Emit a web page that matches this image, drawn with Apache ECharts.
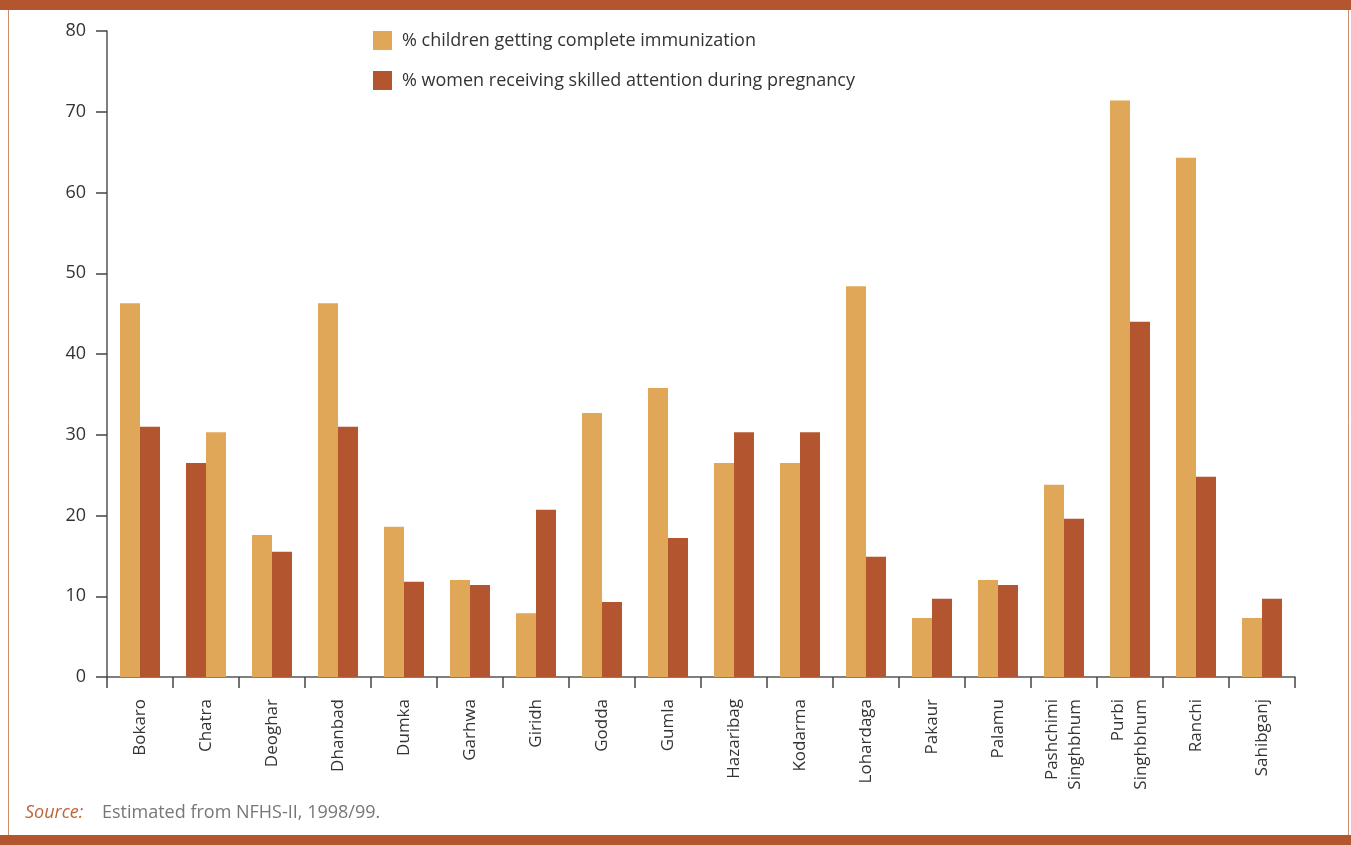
<!DOCTYPE html>
<html>
<head>
<meta charset="utf-8">
<script src="https://cdn.jsdelivr.net/npm/echarts@6/dist/echarts.min.js"></script>
<style>
  html, body { margin: 0; padding: 0; background: #fff; }
  #chart { width: 1351px; height: 845px; }
</style>
</head>
<body>
<div id="chart"></div>
<script>
// districts of Jharkhand
const districts = [
  'Bokaro', 'Chatra', 'Deoghar', 'Dhanbad', 'Dumka', 'Garhwa', 'Giridh', 'Godda', 'Gumla',
  'Hazaribag', 'Kodarma', 'Lohardaga', 'Pakaur', 'Palamu', 'Pashchimi\nSinghbhum',
  'Purbi\nSinghbhum', 'Ranchi', 'Sahibganj'
]
// % children getting complete immunization
const immunization = [46.3, 30.3, 17.6, 46.3, 18.6, 12.0, 7.9, 32.7, 35.8, 26.5, 26.5, 48.4, 7.3, 12.0, 23.8, 71.4, 64.3, 7.3]
// % women receiving skilled attention during pregnancy
const skilled = [31.0, 26.5, 15.5, 31.0, 11.8, 11.4, 20.7, 9.3, 17.2, 30.3, 30.3, 14.9, 9.7, 11.4, 19.6, 44.0, 24.8, 9.7]
// in the original the bar order is swapped for these
const swapped = ['Chatra']
const yTicks = [0, 10, 20, 30, 40, 50, 60, 70, 80]

const LIGHT = '#E0A758'
const DARK = '#B35630'
const FONT = 'Open Sans'

const leftData = districts.map((d, i) => swapped.includes(d)
  ? { value: skilled[i], itemStyle: { color: DARK } }
  : immunization[i])
const rightData = districts.map((d, i) => swapped.includes(d)
  ? { value: immunization[i], itemStyle: { color: LIGHT } }
  : skilled[i])

var myChart = echarts.init(document.getElementById('chart'))
var option = {
  animation: false,
  textStyle: { fontFamily: FONT },
  grid: { left: 107, right: 56, top: 31, bottom: 168 },
  legend: {
    orient: 'vertical',
    left: 368,
    top: 26,
    icon: 'rect',
    itemWidth: 19,
    itemHeight: 19,
    itemGap: 21,
    textStyle: { fontFamily: FONT, fontSize: 18, color: '#333', padding: [0, 0, 0, 5] },
    data: ['% children getting complete immunization', '% women receiving skilled attention during pregnancy']
  },
  xAxis: {
    type: 'category',
    data: districts,
    axisLine: { lineStyle: { color: '#555', width: 1.5 } },
    axisTick: { show: true, length: 11, lineStyle: { color: '#444', width: 1.5 } },
    axisLabel: {
      rotate: 90,
      interval: 0,
      margin: 22,
      fontSize: 17,
      color: '#333',
      fontFamily: FONT,
      align: 'right',
      lineHeight: 23
    }
  },
  yAxis: {
    type: 'value',
    min: yTicks[0],
    max: yTicks[yTicks.length - 1],
    interval: 10,
    splitLine: { show: false },
    axisLine: { show: true, lineStyle: { color: '#555', width: 1.5 } },
    axisTick: { show: true, length: 11, lineStyle: { color: '#444', width: 1.5 } },
    axisLabel: { margin: 21, fontSize: 18, color: '#333', fontFamily: FONT }
  },
  series: [
    {
      name: '% children getting complete immunization',
      type: 'bar',
      data: leftData,
      barWidth: 20,
      barGap: '0%',
      itemStyle: { color: LIGHT }
    },
    {
      name: '% women receiving skilled attention during pregnancy',
      type: 'bar',
      data: rightData,
      barWidth: 20,
      barGap: '0%',
      itemStyle: { color: DARK }
    }
  ],
  graphic: [
    { type: 'rect', shape: { x: 8.5, y: 5, width: 1340, height: 835 }, style: { fill: 'none', stroke: '#D08A6C', lineWidth: 1 } },
    { type: 'rect', shape: { x: 0, y: 0, width: 1351, height: 10 }, style: { fill: DARK } },
    { type: 'rect', shape: { x: 0, y: 835, width: 1351, height: 10 }, style: { fill: DARK } },
    {
      type: 'text', left: 25, top: 804,
      style: { text: 'Source:', font: 'italic 18px "Open Sans"', fill: '#C0643A' }
    },
    {
      type: 'text', left: 102, top: 804,
      style: { text: 'Estimated from NFHS-II, 1998/99.', font: '18px "Open Sans"', fill: '#777' }
    }
  ]
}

option && myChart.setOption(option)
</script>
</body>
</html>
